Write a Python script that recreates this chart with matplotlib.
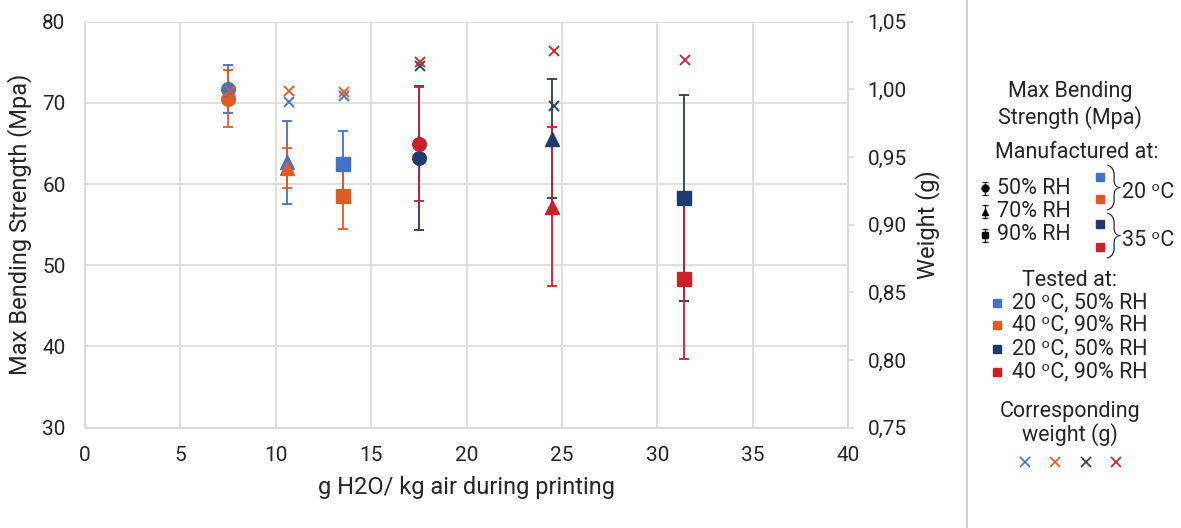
import matplotlib
matplotlib.use("Agg")
from matplotlib import pyplot as plt
from matplotlib.ticker import FuncFormatter, MultipleLocator

plt.rcParams['font.family'] = ['Roboto', 'DejaVu Sans']

# g H2O / kg air during printing
x_20 = [7.5, 10.6, 13.5]
x_35 = [17.5, 24.5, 31.4]
markers = ['o', '^', 's']

# max bending strength (MPa) and error
blue_strength = [71.7, 62.7, 62.5]
blue_err = [2.95, 5.1, 4.1]
orange_strength = [70.5, 62.0, 58.5]
orange_err = [3.5, 2.5, 4.0]
navy_strength = [63.2, 65.6, 58.3]
navy_err = [8.9, 7.3, 12.7]
red_strength = [64.9, 57.2, 48.3]
red_err = [7.0, 9.8, 9.8]

# corresponding weight (g)
blue_weight = [0.998, 0.991, 0.995]
orange_weight = [0.999, 0.999, 0.998]
navy_weight = [1.017, 0.988, 0.918]
red_weight = [1.020, 1.028, 1.022]

BLUE = "#4472C4"
ORANGE = "#E05A28"
NAVY = "#1F3B6E"
RED = "#C9212B"
GRID = "#D9D9D9"
TXT = "#262626"

fig = plt.figure(figsize=(11.81, 5.28), dpi=100)
ax = fig.add_axes([85 / 1181, 1 - 427.7 / 528, 763 / 1181, 406 / 528])
ax2 = ax.twinx()

series = [
    (x_20, blue_strength, blue_err, BLUE),
    (x_20, orange_strength, orange_err, ORANGE),
    (x_35, navy_strength, navy_err, NAVY),
    (x_35, red_strength, red_err, RED),
]
# error bars first (all series), then markers on top
for xs, ys, es, col in series:
    ax.errorbar(xs, ys, yerr=es, fmt='none', ecolor=col,
                elinewidth=1.3, capsize=3.6, capthick=1.3, zorder=3)
for xs, ys, es, col in series:
    for xi, yi, m in zip(xs, ys, markers):
        ax.plot([xi], [yi], m, color=col, ms=9.8, zorder=4)

weights = [
    (x_20, blue_weight, BLUE),
    (x_20, orange_weight, ORANGE),
    (x_35, navy_weight, NAVY),
    (x_35, red_weight, RED),
]
for xs, ws, col in weights:
    ax2.plot([x + 0.08 for x in xs], ws, 'x', color=col, ms=7, mew=1.3, ls='none')

ax.set_xlim(0, 40)
ax.set_ylim(30, 80)
ax2.set_ylim(0.75, 1.05)
ax.xaxis.set_major_locator(MultipleLocator(5))
ax.yaxis.set_major_locator(MultipleLocator(10))
ax2.yaxis.set_major_locator(MultipleLocator(0.05))
ax2.yaxis.set_major_formatter(FuncFormatter(lambda v, p: f"{v:.2f}".replace('.', ',')))

ax.grid(True, color=GRID, lw=1.2)
ax.set_axisbelow(True)
for a in (ax, ax2):
    for s in a.spines.values():
        s.set_color(GRID)
        s.set_linewidth(1.2)
ax.spines['top'].set_visible(False)
ax2.spines['top'].set_visible(False)

ax.tick_params(axis='both', length=0, labelsize=15, labelcolor=TXT)
ax.tick_params(axis='y', pad=14)
ax.tick_params(axis='x', pad=13)
ax2.tick_params(axis='y', length=4, color=GRID, width=1.2, pad=10, labelsize=15, labelcolor=TXT)

ax.set_xlabel("g H2O/ kg air during printing", fontsize=17, color=TXT, labelpad=8)
ax.set_ylabel("Max Bending Strength (Mpa)", fontsize=17, color=TXT, labelpad=7)
ax2.set_ylabel("Weight (g)", fontsize=17, color=TXT, labelpad=6)

# legend panel, pixel coordinates
lax = fig.add_axes([0, 0, 1, 1], zorder=-1)
lax.set_xlim(0, 1181)
lax.set_ylim(528, 0)
lax.axis('off')
lax.plot([967, 967], [0, 528], color="#C8C8C8", lw=1.2)

fs = 15.5
cx = 1070
lax.text(cx, 91, "Max Bending", ha='center', va='center', fontsize=fs, color=TXT)
lax.text(cx, 118, "Strength (Mpa)", ha='center', va='center', fontsize=fs, color=TXT)
lax.text(1077, 152, "Manufactured at:", ha='center', va='center', fontsize=fs, color=TXT)

for yy, m, lab in zip([188, 211.5, 235], markers, ["50% RH", "70% RH", "90% RH"]):
    lax.errorbar([985], [yy], yerr=[6.5], fmt=m, color='black', ms=5,
                 elinewidth=0.9, capsize=2.2, capthick=0.9)
    lax.text(997, yy, lab, ha='left', va='center', fontsize=fs, color=TXT)

for yy, col in zip([176.5, 198.5, 223.5, 246.5], [BLUE, ORANGE, NAVY, RED]):
    lax.plot([1100], [yy], 's', color=col, ms=5.8)
lax.text(1106, 187.5, "}", ha='left', va='center', fontsize=34, color=TXT, fontweight='light')
lax.text(1106, 235.5, "}", ha='left', va='center', fontsize=34, color=TXT, fontweight='light')
lax.text(1122, 192, "20 ᵒC", ha='left', va='center', fontsize=fs, color=TXT)
lax.text(1122, 240, "35 ᵒC", ha='left', va='center', fontsize=fs, color=TXT)

lax.text(cx, 281, "Tested at:", ha='center', va='center', fontsize=fs, color=TXT)
tested = ["20 ᵒC, 50% RH", "40 ᵒC, 90% RH", "20 ᵒC, 50% RH", "40 ᵒC, 90% RH"]
for yy, col, lab in zip([302.5, 325, 348.5, 371.5], [BLUE, ORANGE, NAVY, RED], tested):
    lax.plot([997], [yy], 's', color=col, ms=5.3)
    lax.text(1012, yy, lab, ha='left', va='center', fontsize=fs, color=TXT)

lax.text(cx, 412, "Corresponding", ha='center', va='center', fontsize=fs, color=TXT)
lax.text(cx, 435, "weight (g)", ha='center', va='center', fontsize=fs, color=TXT)
for xx, col in zip([1025, 1055, 1086, 1116], [BLUE, ORANGE, NAVY, RED]):
    lax.plot([xx], [462], 'x', color=col, ms=6.5, mew=1.2)

fig.savefig("out.png", dpi=100)
